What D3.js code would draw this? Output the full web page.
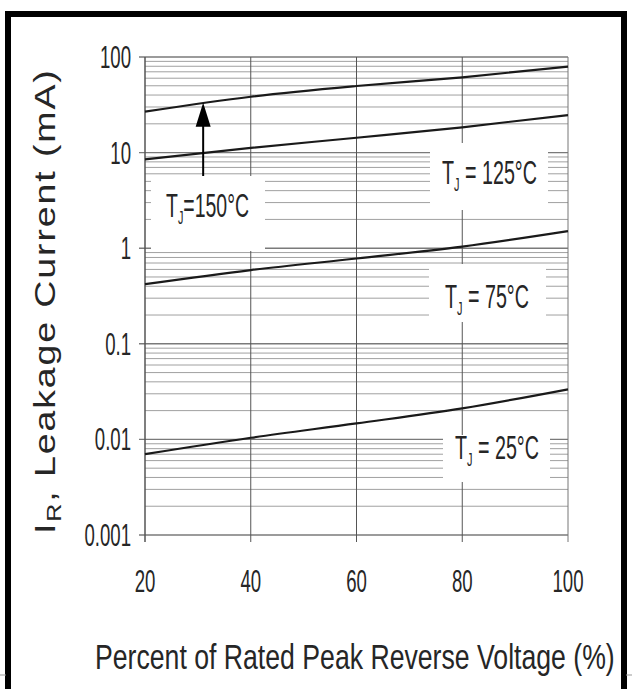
<!DOCTYPE html>
<html>
<head>
<meta charset="utf-8">
<script src="https://cdn.jsdelivr.net/npm/d3@7"></script>
<style>
  html, body { margin: 0; padding: 0; background: #fff; }
  svg { display: block; }
  text { font-family: "Liberation Sans", Arial, sans-serif; fill: #262626; }
</style>
</head>
<body>
<svg id="chart" width="632" height="689"></svg>
<script>
// percent of rated peak reverse voltage
var voltage = [20, 40, 60, 80, 100];
// leakage current (mA) for each junction temperature
var tj150 = [26.8, 38.4, 49.7, 61.3, 79.2];
var tj125 = [8.5, 11.2, 14.3, 18.4, 24.7];
var tj75 = [0.42, 0.59, 0.78, 1.04, 1.51];
var tj25 = [0.0070, 0.0104, 0.0147, 0.0211, 0.0334];

var xTicks = [20, 40, 60, 80, 100];
var yTicks = [0.001, 0.01, 0.1, 1, 10, 100];
var yTickLabels = ["0.001", "0.01", "0.1", "1", "10", "100"];

var arrowAt = 31; // % where the 150°C arrow points

var svg = d3.select("#chart");

var x = d3.scaleLinear().domain([20, 100]).range([145, 568]);
var y = d3.scaleLog().domain([0.001, 100]).range([535, 57]);

// outer frame
svg.append("rect")
    .attr("x", 8).attr("y", 14)
    .attr("width", 616).attr("height", 700)
    .attr("fill", "none")
    .attr("stroke", "#000")
    .attr("stroke-width", 6);
svg.append("line").attr("x1", 0).attr("x2", 6).attr("y1", 675).attr("y2", 675).attr("stroke", "#999");
svg.append("line").attr("x1", 626).attr("x2", 632).attr("y1", 675).attr("y2", 675).attr("stroke", "#999");

// horizontal grid: minor lines in each decade, then decade lines
var minor = [];
yTicks.slice(0, -1).forEach(function(d) {
    for (var k = 2; k <= 9; k++) minor.push(d * k);
});

var grid = svg.append("g");
grid.selectAll(".minor")
    .data(minor)
    .enter().append("line")
    .attr("class", "minor")
    .attr("x1", x(20)).attr("x2", x(100))
    .attr("y1", function(d) { return y(d); })
    .attr("y2", function(d) { return y(d); })
    .attr("stroke", "#a0a0a0")
    .attr("stroke-width", 1);

grid.selectAll(".major")
    .data(yTicks)
    .enter().append("line")
    .attr("class", "major")
    .attr("x1", x(20) - 6).attr("x2", x(100))
    .attr("y1", function(d) { return y(d); })
    .attr("y2", function(d) { return y(d); })
    .attr("stroke", "#7a7a7a")
    .attr("stroke-width", 1.4);

grid.selectAll(".vgrid")
    .data(xTicks)
    .enter().append("line")
    .attr("class", "vgrid")
    .attr("x1", function(d) { return x(d); })
    .attr("x2", function(d) { return x(d); })
    .attr("y1", y(100)).attr("y2", y(0.001) + 7)
    .attr("stroke", function(d) { return d == 100 ? "#777" : "#555"; })
    .attr("stroke-width", function(d) { return d == 20 ? 1.5 : 1; });

// white boxes behind the temperature labels
var boxes = [
    [151, 176, 114, 75],
    [430, 143, 118, 67],
    [429, 264, 117, 58],
    [443, 435, 107, 47]
];
svg.selectAll(".box")
    .data(boxes)
    .enter().append("rect")
    .attr("class", "box")
    .attr("x", function(d) { return d[0]; })
    .attr("y", function(d) { return d[1]; })
    .attr("width", function(d) { return d[2]; })
    .attr("height", function(d) { return d[3]; })
    .attr("fill", "#fff");

// curves
var line = d3.line()
    .x(function(d) { return x(d[0]); })
    .y(function(d) { return y(d[1]); })
    .curve(d3.curveMonotoneX);

[tj150, tj125, tj75, tj25].forEach(function(s) {
    svg.append("path")
        .datum(d3.zip(voltage, s))
        .attr("d", line)
        .attr("fill", "none")
        .attr("stroke", "#1a1a1a")
        .attr("stroke-width", 2.2);
});

// squeeze text horizontally to a wanted width
function fitText(g, str, size, width) {
    var t = g.append("text").attr("font-size", size).text(str);
    var w = t.node().getComputedTextLength();
    t.attr("transform", "scale(" + (width / w) + ",1)");
    return t;
}

function narrow(g, str, size, sx, anchor) {
    return g.append("text")
        .attr("font-size", size)
        .attr("text-anchor", anchor)
        .attr("transform", "scale(" + sx + ",1)")
        .text(str);
}

// y tick labels
yTicks.forEach(function(d, i) {
    var g = svg.append("g").attr("transform", "translate(131," + (y(d) + 11) + ")");
    narrow(g, yTickLabels[i], 31, 0.6, "end");
});

// x tick labels
xTicks.forEach(function(d) {
    var g = svg.append("g").attr("transform", "translate(" + x(d) + ",592)");
    narrow(g, d, 31, 0.6, "middle");
});

// axis titles
var xt = svg.append("g").attr("transform", "translate(95,669)");
fitText(xt, "Percent of Rated Peak Reverse Voltage (%)", 36, 520);

var yt = svg.append("g").attr("transform", "translate(55,534) rotate(-90)");
var ytext = yt.append("text").attr("font-size", 30).attr("letter-spacing", 1.5);
ytext.append("tspan").text("I");
ytext.append("tspan").attr("font-size", 20).attr("dy", 6).text("R");
ytext.append("tspan").attr("dy", -6).text(", Leakage Current (mA)");
var yw = ytext.node().getComputedTextLength();
ytext.attr("transform", "scale(" + (466 / yw) + ",1)");

// temperature labels
var labelPos = [
    [166, 217, 83, "=150°C"],
    [442, 184, 95, " = 125°C"],
    [445, 308, 84, " = 75°C"],
    [455, 459, 84, " = 25°C"]
];
labelPos.forEach(function(p) {
    var g = svg.append("g").attr("transform", "translate(" + p[0] + "," + p[1] + ")");
    var t = g.append("text").attr("font-size", 34);
    t.append("tspan").text("T");
    t.append("tspan").attr("font-size", 19).attr("dy", 7).text("J");
    t.append("tspan").attr("dy", -7).text(p[3]);
    var w = t.node().getComputedTextLength();
    t.attr("transform", "scale(" + (p[2] / w) + ",1)");
});

// arrow to the 150°C curve
var tipY = y(d3.scaleLinear().domain(voltage).range(tj150)(arrowAt));
var ax = x(arrowAt);
svg.append("line")
    .attr("x1", ax).attr("x2", ax)
    .attr("y1", 176).attr("y2", tipY + 20)
    .attr("stroke", "#000").attr("stroke-width", 2);
svg.append("path")
    .attr("d", "M" + ax + "," + tipY + "L" + (ax - 7.5) + "," + (tipY + 24) + "L" + (ax + 7.5) + "," + (tipY + 24) + "Z")
    .attr("fill", "#000");
</script>
</body>
</html>
